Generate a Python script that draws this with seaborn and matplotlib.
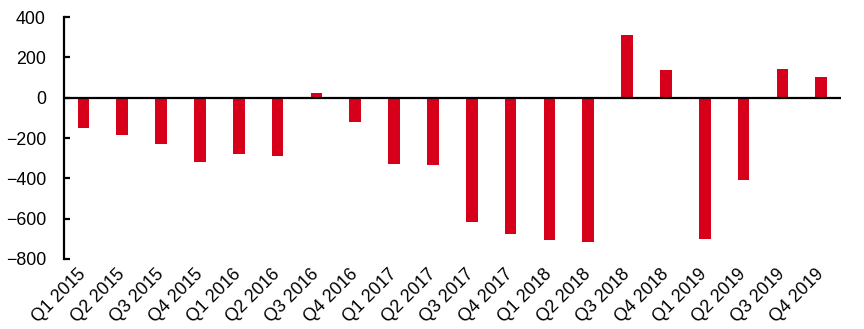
import matplotlib
matplotlib.use("Agg")
import matplotlib.pyplot as plt
import seaborn as sns
import pandas as pd

quarters = ["Q1 2015", "Q2 2015", "Q3 2015", "Q4 2015",
            "Q1 2016", "Q2 2016", "Q3 2016", "Q4 2016",
            "Q1 2017", "Q2 2017", "Q3 2017", "Q4 2017",
            "Q1 2018", "Q2 2018", "Q3 2018", "Q4 2018",
            "Q1 2019", "Q2 2019", "Q3 2019", "Q4 2019"]
values = [-152, -183, -230, -319,
          -281, -291, 21, -122,
          -330, -335, -616, -674,
          -707, -717, 311, 137,
          -700, -406, 142, 104]
yticks = [-800, -600, -400, -200, 0, 200, 400]

sns.set_theme(style="white")
plt.rcParams['font.family'] = ['Liberation Sans', 'DejaVu Sans']

df = pd.DataFrame({"quarter": quarters, "value": values})

fig = plt.figure(figsize=(8.64, 3.29), dpi=100)
ax = fig.add_axes([0.074, 0.213, 0.899, 0.735])
sns.barplot(data=df, x="quarter", y="value", color="#d7001a", saturation=1,
            width=0.3, ax=ax, linewidth=0)

ax.set_ylim(-800, 400)
ax.set_yticks(yticks)
ax.set_xlim(-0.5, len(quarters) - 0.5)
ax.axhline(0, color="black", linewidth=1.6, zorder=3)
for s in ["top", "right", "bottom"]:
    ax.spines[s].set_visible(False)
ax.spines["left"].set_color("black")
ax.spines["left"].set_linewidth(1.6)
ax.tick_params(axis="y", direction="in", length=4, width=1.6, color="black",
               labelsize=12.8, pad=13, left=True, labelcolor="black")
ax.tick_params(axis="x", length=0, labelsize=12.8, pad=9, labelcolor="black")
plt.setp(ax.get_xticklabels(), rotation=45, ha="right", va="center",
         rotation_mode="anchor")
ax.set_xlabel("")
ax.set_ylabel("")

fig.savefig("out.png", dpi=100)
